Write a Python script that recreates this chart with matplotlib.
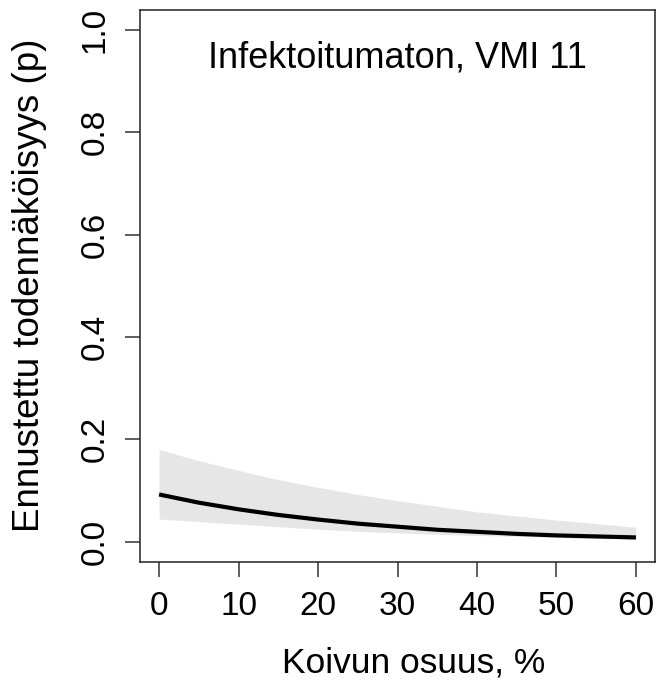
import matplotlib
matplotlib.use("Agg")
import matplotlib.pyplot as plt
import numpy as np

plt.rcParams['font.family'] = ['Liberation Sans', 'DejaVu Sans']

birch_share = [0, 5, 10, 15, 20, 25, 30, 35, 40, 45, 50, 55, 60]
p_fit = [0.092, 0.076, 0.063, 0.052, 0.043, 0.035, 0.029, 0.023, 0.019, 0.015, 0.012, 0.010, 0.008]
p_upper = [0.180, 0.158, 0.139, 0.121, 0.106, 0.092, 0.080, 0.069, 0.058, 0.050, 0.042, 0.035, 0.028]
p_lower = [0.044, 0.039, 0.034, 0.029, 0.024, 0.020, 0.017, 0.014, 0.012, 0.010, 0.008, 0.006, 0.005]
x_ticks = [0, 10, 20, 30, 40, 50, 60]
y_ticks = [0.0, 0.2, 0.4, 0.6, 0.8, 1.0]
title_text = "Infektoitumaton, VMI 11"
xlabel = "Koivun osuus, %"
ylabel = "Ennustettu todennäköisyys (p)"

W, H = 660, 688
fig = plt.figure(figsize=(W / 100, H / 100), dpi=100)
ax = fig.add_axes([140 / W, 1 - 562 / H, (655 - 140) / W, (562 - 9.5) / H])

ax.fill_between(birch_share, p_lower, p_upper, color='#E6E6E6', linewidth=0)
ax.plot(birch_share, p_fit, color='black', linewidth=3.0, solid_capstyle='butt')

ax.set_xlim(-2.4, 62.4)
ax.set_ylim(-0.04, 1.04)
ax.set_xticks(x_ticks)
ax.set_yticks(y_ticks)
ax.set_xticklabels([str(v) for v in x_ticks])
ax.set_yticklabels([f"{v:.1f}" for v in y_ticks], rotation=90, va='center')

for s in ax.spines.values():
    s.set_linewidth(1.1)
    s.set_color('#222222')
ax.tick_params(axis='both', direction='out', length=11, width=1.1, color='#333333',
               labelsize=24, pad=10)

ax.text(30, 0.945, title_text, ha='center', va='center', fontsize=26)

fig.text(30 / W, 1 - 285 / H, ylabel, rotation=90, ha='center', va='center', fontsize=26.5)
fig.text(414 / W, 1 - 663 / H, xlabel, ha='center', va='center', fontsize=25.5)

fig.savefig("out.png", dpi=100)
